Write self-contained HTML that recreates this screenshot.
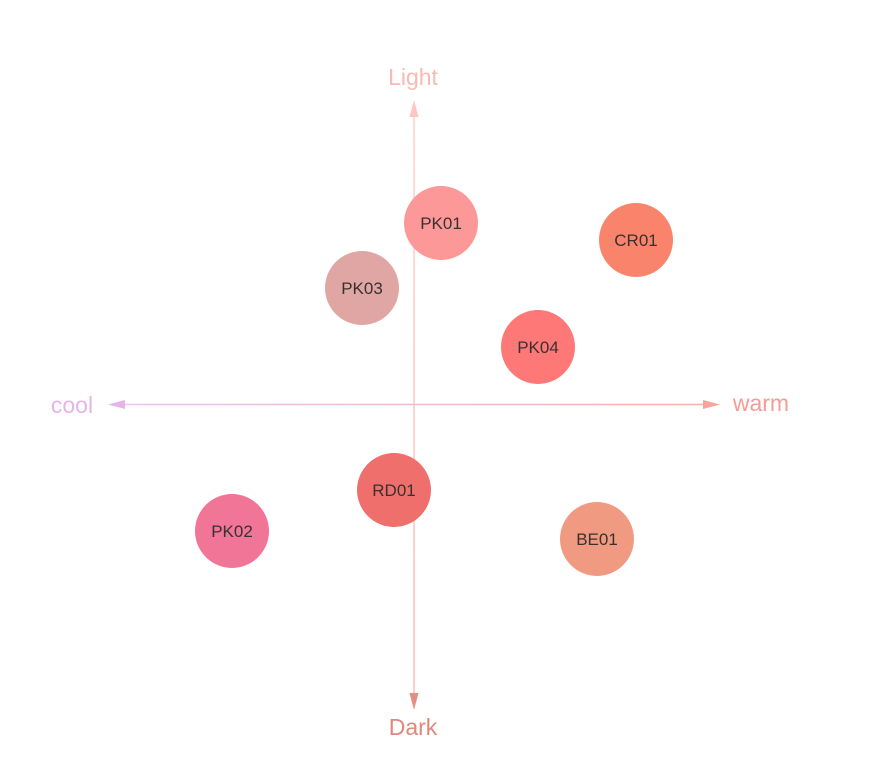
<!DOCTYPE html>
<html><head><meta charset="utf-8"><style>
html,body{margin:0;padding:0;background:#fff;}
svg{display:block;}
text{font-family:"Liberation Sans","DejaVu Sans",sans-serif;}
</style></head><body>
<svg width="869" height="766" viewBox="0 0 869 766" xmlns="http://www.w3.org/2000/svg">
<defs>
<linearGradient id="gv" x1="0" y1="0" x2="0" y2="1">
<stop offset="0" stop-color="#fdd0cc"/><stop offset="1" stop-color="#f4c0bb"/>
</linearGradient>
<linearGradient id="gh" x1="0" y1="0" x2="1" y2="0">
<stop offset="0" stop-color="#ecc6f0"/><stop offset="1" stop-color="#f8b4ad"/>
</linearGradient>
</defs>
<rect x="413.3" y="115" width="1.5" height="580" fill="url(#gv)"/>
<polygon points="414,100 409.5,117 418.5,117" fill="#fdc6c1"/>
<polygon points="414,710 409.5,693 418.5,693" fill="#e48d83"/>
<rect x="122" y="403.7" width="584" height="1.6" fill="url(#gh)"/>
<polygon points="108,404.5 125,400 125,409" fill="#e6b4ea"/>
<polygon points="720,404.5 703,400 703,409" fill="#f7a59c"/>
<text x="413" y="85" font-size="23" fill="#fbb9b3" text-anchor="middle">Light</text>
<text x="413" y="735" font-size="23" fill="#e0877b" text-anchor="middle">Dark</text>
<text x="72" y="413" font-size="23" fill="#e6b3ea" text-anchor="middle">cool</text>
<text x="761" y="411" font-size="23" fill="#f49c95" text-anchor="middle">warm</text>
<g font-size="17" fill="#3a3030" text-anchor="middle">
<circle cx="441" cy="223" r="37" fill="#fd9898"/><text x="441" y="229">PK01</text>
<circle cx="636" cy="240" r="37" fill="#fa846b"/><text x="636" y="246">CR01</text>
<circle cx="362" cy="288" r="37" fill="#e0a6a4"/><text x="362" y="294">PK03</text>
<circle cx="538" cy="347" r="37" fill="#fe7878"/><text x="538" y="353">PK04</text>
<circle cx="394" cy="490" r="37" fill="#ee6f6c"/><text x="394" y="496">RD01</text>
<circle cx="232" cy="531" r="37" fill="#f07596"/><text x="232" y="537">PK02</text>
<circle cx="597" cy="539" r="37" fill="#f09a82"/><text x="597" y="545">BE01</text>
</g>
</svg>
</body></html>
